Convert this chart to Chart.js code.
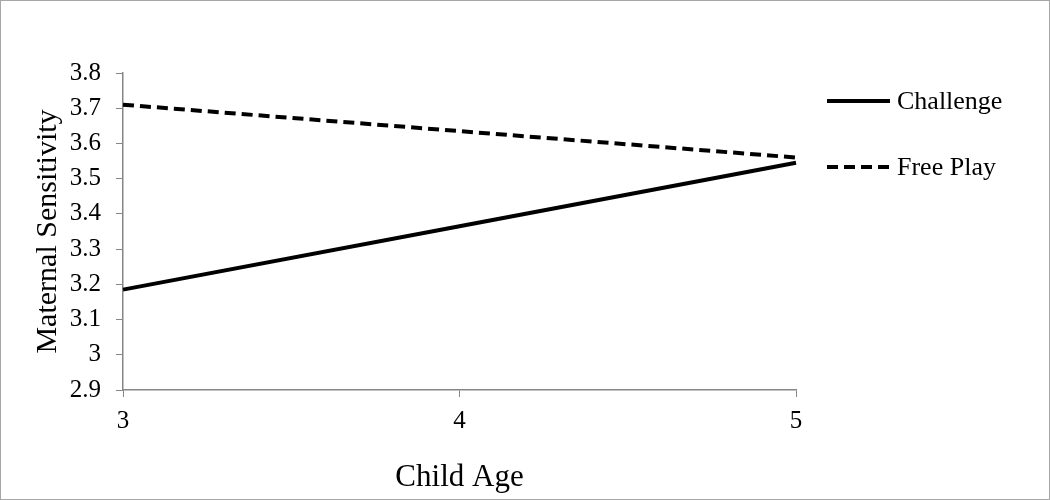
<!DOCTYPE html>
<html>
<head>
<meta charset="utf-8">
<script src="https://cdn.jsdelivr.net/npm/chart.js@4/dist/chart.umd.min.js"></script>
<style>
    body { margin: 0; background: #fff; }
    .frame {
        width: 1050px;
        height: 500px;
        box-sizing: border-box;
        border: 1px solid #a6a6a6;
    }
    canvas { display: block; }
</style>
</head>
<body>
<div class="frame">
    <canvas id="sensitivity-chart" width="1048" height="498"></canvas>
</div>
<script>
// chart values
const ages = ['3', '4', '5'];
const challenge = [3.185, 3.365, 3.545];
const freePlay = [3.71, 3.635, 3.56];
const yTicks = [2.9, 3.0, 3.1, 3.2, 3.3, 3.4, 3.5, 3.6, 3.7, 3.8];

const serif = "'Liberation Serif', 'DejaVu Serif', serif";
const axisGray = '#868686';

// simple legend drawn to the right of the plot, Excel style
const sideLegend = {
    id: 'sideLegend',
    afterDraw(chart) {
        const ctx = chart.ctx;
        const x0 = 826, x1 = 889, textX = 896;
        const rows = [100, 166];
        ctx.save();
        chart.data.datasets.forEach((ds, i) => {
            const y = rows[i];
            ctx.beginPath();
            ctx.strokeStyle = ds.borderColor;
            ctx.lineWidth = ds.borderWidth;
            ctx.setLineDash(ds.borderDash || []);
            ctx.moveTo(x0, y);
            ctx.lineTo(x1, y);
            ctx.stroke();
            ctx.setLineDash([]);
            ctx.fillStyle = '#000';
            ctx.font = '26px ' + serif;
            ctx.textAlign = 'left';
            ctx.textBaseline = 'middle';
            ctx.fillText(ds.label, textX, y + 1);
        });
        ctx.restore();
    }
};

const ctx = document.getElementById('sensitivity-chart');
new Chart(ctx, {
    type: 'line',
    data: {
        labels: ages,
        datasets: [
            {
                label: 'Challenge',
                data: challenge,
                borderColor: '#000',
                borderWidth: 4,
                pointRadius: 0,
                tension: 0
            },
            {
                label: 'Free Play',
                data: freePlay,
                borderColor: '#000',
                borderWidth: 4,
                borderDash: [11, 6],
                pointRadius: 0,
                tension: 0
            }
        ]
    },
    options: {
        responsive: false,
        animation: false,
        layout: {
            padding: { top: 72, right: 253, bottom: 0, left: 0 }
        },
        plugins: {
            legend: { display: false },
            tooltip: { enabled: false }
        },
        scales: {
            x: {
                offset: false,
                border: { color: axisGray, width: 1.5 },
                grid: {
                    drawOnChartArea: false,
                    drawTicks: true,
                    tickLength: 7,
                    color: axisGray
                },
                ticks: {
                    color: '#000',
                    padding: 9,
                    maxRotation: 0,
                    font: { family: serif, size: 25 }
                },
                title: {
                    display: true,
                    text: 'Child Age',
                    color: '#000',
                    padding: { top: 0, bottom: 3 },
                    font: { family: serif, size: 31 }
                },
                afterFit(scale) { scale.height = 109; }
            },
            y: {
                min: 2.9,
                max: 3.8,
                border: { color: axisGray, width: 1.5 },
                grid: {
                    drawOnChartArea: false,
                    drawTicks: true,
                    tickLength: 7,
                    color: axisGray
                },
                afterBuildTicks(scale) {
                    scale.ticks = yTicks.map(v => ({ value: v }));
                },
                ticks: {
                    color: '#000',
                    padding: 15,
                    font: { family: serif, size: 25 },
                    callback: v => String(Number(v.toFixed(1)))
                },
                title: {
                    display: true,
                    text: 'Maternal Sensitivity',
                    color: '#000',
                    padding: { top: 29, bottom: 0 },
                    font: { family: serif, size: 30 }
                },
                afterFit(scale) { scale.width = 122; }
            }
        }
    },
    plugins: [sideLegend]
});
</script>
</body>
</html>
